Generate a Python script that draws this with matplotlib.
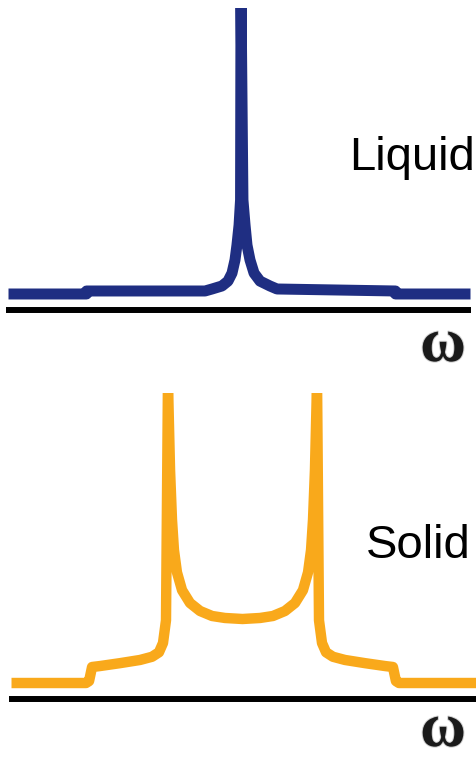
import matplotlib
matplotlib.use("Agg")
import matplotlib.pyplot as plt
import matplotlib.patheffects as pe

# Frequency offset (units of the quadrupole splitting) and normalised intensity
liquid_freq = [-1.56, -1.04, -1.04, -0.25, -0.203, -0.137, -0.097, -0.07, -0.05,
               -0.037, -0.023, -0.013, -0.01, 0.003, 0.017, 0.03, 0.05, 0.077,
               0.117, 0.183, 0.23, 1.02, 1.02, 1.52]
liquid_int = [0.0, 0.0, 0.0105, 0.0105, 0.0175, 0.028, 0.045, 0.073, 0.119,
              0.171, 0.241, 0.329, 1.05, 0.329, 0.241, 0.171, 0.119, 0.073,
              0.045, 0.028, 0.0175, 0.0105, 0.0, 0.0]

solid_freq = [-1.54, -1.043, -1.023, -1.003, -0.95, -0.817, -0.683, -0.603, -0.557,
              -0.53, -0.51, -0.497, -0.483, -0.47, -0.457, -0.437, -0.403, -0.35,
              -0.283, -0.203, -0.117, 0.0,
              0.117, 0.203, 0.283, 0.35, 0.403, 0.437, 0.457, 0.47, 0.483, 0.497,
              0.51, 0.53, 0.557, 0.603, 0.683, 0.817, 0.95, 1.003, 1.023, 1.043, 1.62]
solid_int = [0.0, 0.0, 0.03, 0.25, 0.265, 0.31, 0.36, 0.41, 0.48,
             0.625, 0.98, 4.7, 3.33, 2.55, 2.08, 1.73, 1.45, 1.25,
             1.125, 1.047, 1.016, 1.0,
             1.016, 1.047, 1.125, 1.25, 1.45, 1.73, 2.08, 2.55, 3.33, 4.7,
             0.98, 0.625, 0.48, 0.41, 0.36, 0.31, 0.265, 0.25, 0.03, 0.0, 0.0]

panel_labels = ["Liquid", "Solid"]
axis_symbol = "\u03c9"

BLUE = "#1f2e82"
ORANGE = "#f9a91b"

W, H = 476, 759
fig = plt.figure(figsize=(W / 100, H / 100), dpi=100)


def pix_axes(top, bottom):
    return fig.add_axes([0, 1 - bottom / H, 1, (bottom - top) / H])


ax1 = pix_axes(8, 330)
ax1.set_xlim(-1.6167, 1.5567)
ax1.set_ylim(-0.1259, 1.0)
ax1.plot(liquid_freq, liquid_int, color=BLUE, lw=7.9,
         solid_capstyle="butt", solid_joinstyle="round")
ax1.plot([-1.577, 1.523], [-0.056, -0.056], color="black", lw=4.3,
         solid_capstyle="butt", clip_on=False)
ax1.axis("off")

ax2 = pix_axes(393, 720)
ax2.set_xlim(-1.6167, 1.5567)
ax2.set_ylim(-0.578, 4.531)
ax2.plot(solid_freq, solid_int, color=ORANGE, lw=7.5,
         solid_capstyle="butt", solid_joinstyle="round")
ax2.plot([-1.557, 1.62], [-0.25, -0.25], color="black", lw=4.3,
         solid_capstyle="butt", clip_on=False)
ax2.axis("off")

label_font = dict(family="Liberation Sans", size=34, color="black")
fig.text(475 / W, 1 - 170 / H, panel_labels[0], ha="right", va="baseline", **label_font)
fig.text(471 / W, 1 - 558 / H, panel_labels[1], ha="right", va="baseline", **label_font)

# soft-edged frequency-axis symbol
sym_font = dict(family="Liberation Serif", weight="bold", size=45, color="#1a1a1a")
soft = [pe.withStroke(linewidth=1.5, foreground="#a0a0a0", alpha=0.5)]
fig.text(443 / W, 1 - 361 / H, axis_symbol, ha="center", va="baseline",
         path_effects=soft, **sym_font)
fig.text(443 / W, 1 - 746 / H, axis_symbol, ha="center", va="baseline",
         path_effects=soft, **sym_font)

fig.savefig("out.png", dpi=100)
